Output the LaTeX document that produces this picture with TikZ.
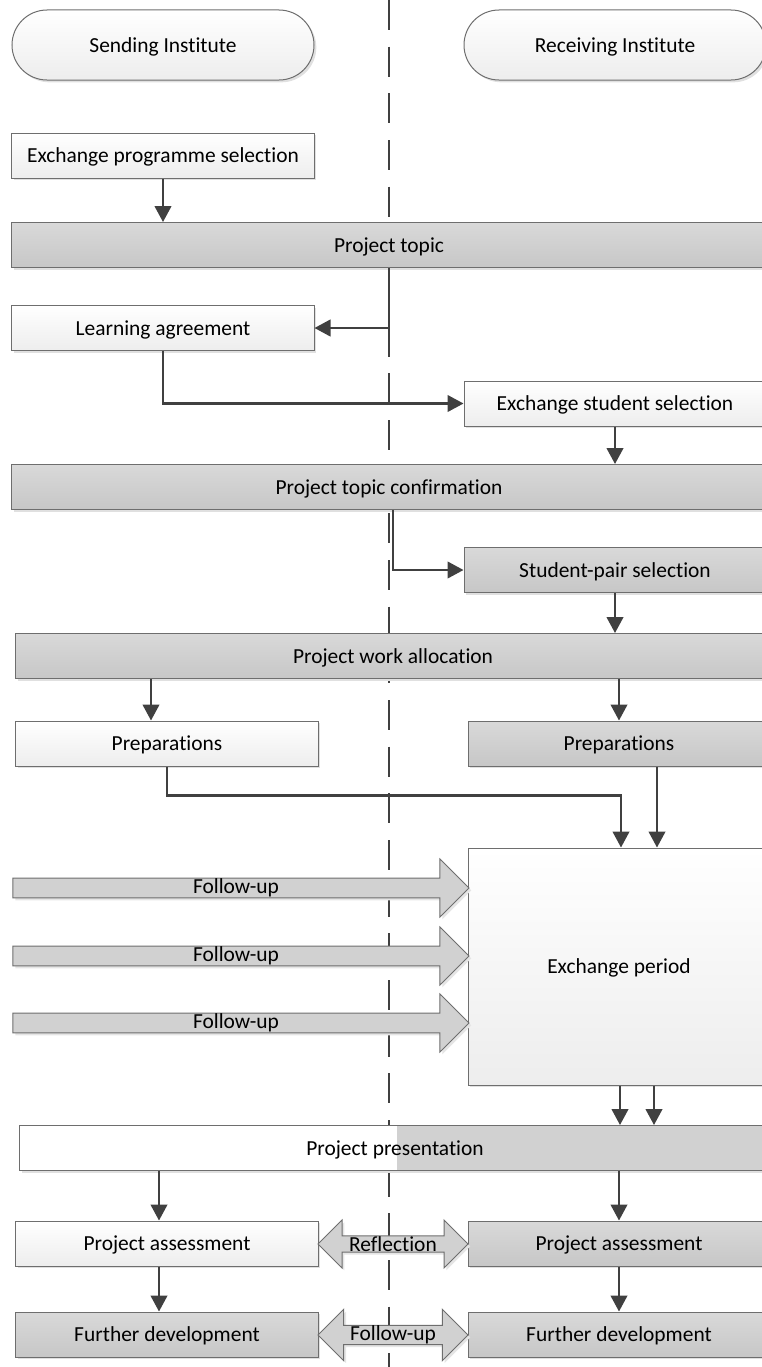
\documentclass[tikz,border=0pt]{standalone}
\usepackage{fontspec}
\setmainfont{Carlito}[Ligatures=NoCommon]
\usetikzlibrary{arrows.meta, shapes.arrows, shadows}
\definecolor{edgegray}{HTML}{6E6E6E}
\definecolor{linkgray}{HTML}{404040}
\begin{document}
\begin{tikzpicture}[x=0.3mm, y=-0.3mm,
	every node/.style={font=\fontsize{18.3}{21}\selectfont, text=black},
	boxbase/.style={draw=edgegray, line width=0.3mm, minimum height=13.5mm, inner sep=0pt,
		text height=14pt, text depth=2pt,
		drop shadow={shadow xshift=0.7mm, shadow yshift=-0.7mm, fill=black!12, opacity=1}},
	whitebox/.style={boxbase, top color=white, bottom color=black!7, minimum width=90.6mm},
	graybox/.style={boxbase, top color=black!15, bottom color=black!22, minimum width=90.6mm},
	terminal/.style={whitebox, minimum height=21mm, rounded corners=10.5mm},
	bigarrow/.style={draw=edgegray, line width=0.3mm, fill=black!18, inner sep=0pt,
		drop shadow={shadow xshift=0.7mm, shadow yshift=-0.7mm, fill=black!10, opacity=1}},
	link/.style={draw=linkgray, line width=0.65mm, -{Triangle[length=4.8mm, width=5mm]}}]
	\useasboundingbox (0,0) rectangle (761,1367);
	%lane divider
	\draw[linkgray, line width=0.45mm, dash pattern=on 9mm off 5mm] (389,0) -- (389,1367);
	%
	%lanes
	\node[terminal] (send) at (163,45) {Sending Institute};
	\node[terminal] (recv) at (615,45) {Receiving Institute};
	%
	%boxes
	\node[whitebox] (eps) at (163,155.5) {Exchange programme selection};
	\node[graybox, minimum width=226.2mm] (topic) at (389,245) {Project topic};
	\node[whitebox] (learn) at (163,328) {Learning agreement};
	\node[whitebox] (ess) at (615,403.5) {Exchange student selection};
	\node[graybox, minimum width=226.2mm] (conf) at (389,487) {Project topic confirmation};
	\node[graybox] (pair) at (615,570) {Student-pair selection};
	\node[graybox, minimum width=226.2mm] (alloc) at (393,656) {Project work allocation};
	\node[whitebox] (prepL) at (167,743.5) {Preparations};
	\node[graybox] (prepR) at (619,743.5) {Preparations};
	\node[whitebox, minimum height=71.1mm] (period) at (619,966.5) {Exchange period};
	\node[boxbase, fill=white, minimum width=225mm,
		path picture={\fill[black!18] ([xshift=0.6mm]path picture bounding box.south) rectangle (path picture bounding box.north east);}]
		(pres) at (395,1148) {Project presentation};
	\node[whitebox] (assessL) at (167,1243.5) {Project assessment};
	\node[graybox] (assessR) at (619,1243.5) {Project assessment};
	\node[graybox] (devL) at (167,1334.5) {Further development};
	\node[graybox] (devR) at (619,1334.5) {Further development};
	%
	%block arrows
	\node[bigarrow, single arrow, minimum height=136.8mm, minimum width=17.4mm,
		single arrow head extend=5.55mm] (fu1) at (236,888) {Follow-up};
	\node[bigarrow, single arrow, minimum height=136.8mm, minimum width=17.4mm,
		single arrow head extend=5.55mm] (fu2) at (236,956) {Follow-up};
	\node[bigarrow, single arrow, minimum height=136.8mm, minimum width=17.4mm,
		single arrow head extend=5.55mm] (fu3) at (236,1023) {Follow-up};
	\node[bigarrow, double arrow, minimum height=45mm, minimum width=14.4mm,
		double arrow head extend=4.65mm] (refl) at (393,1244) {Reflection};
	\node[bigarrow, double arrow, minimum height=45mm, minimum width=15mm,
		double arrow head extend=4.8mm] (fu4) at (393,1335) {Follow-up};
	%
	%links
	\draw[link] (eps.south) -- (eps.south |- topic.north);
	\draw[link] (topic.south) |- (learn.east);
	\draw[link] (learn.south) |- (ess.west);
	\draw[link] (ess.south) -- (ess.south |- conf.north);
	\draw[link] ([xshift=1.2mm]conf.south) |- (pair.west);
	\draw[link] (pair.south) -- (pair.south |- alloc.north);
	\draw[link] ([xshift=-4.8mm]prepL.north |- alloc.south) -- ([xshift=-4.8mm]prepL.north);
	\draw[link] (prepR.north |- alloc.south) -- (prepR.north);
	\draw[link] (prepL.south) -- ++(0,29) -| ([xshift=0.6mm]period.north);
	\draw[link] ([xshift=11.4mm]prepR.south) -- ([xshift=11.4mm]period.north);
	\draw[link] ([xshift=0.3mm]period.south) -- ([xshift=0.3mm]period.south |- pres.north);
	\draw[link] ([xshift=10.5mm]period.south) -- ([xshift=10.5mm]period.south |- pres.north);
	\draw[link] ([xshift=-2.4mm]assessL.north |- pres.south) -- ([xshift=-2.4mm]assessL.north);
	\draw[link] (assessR.north |- pres.south) -- (assessR.north);
	\draw[link] ([xshift=-2.4mm]assessL.south) -- ([xshift=-2.4mm]devL.north);
	\draw[link] (assessR.south) -- (devR.north);
\end{tikzpicture}
\end{document}
